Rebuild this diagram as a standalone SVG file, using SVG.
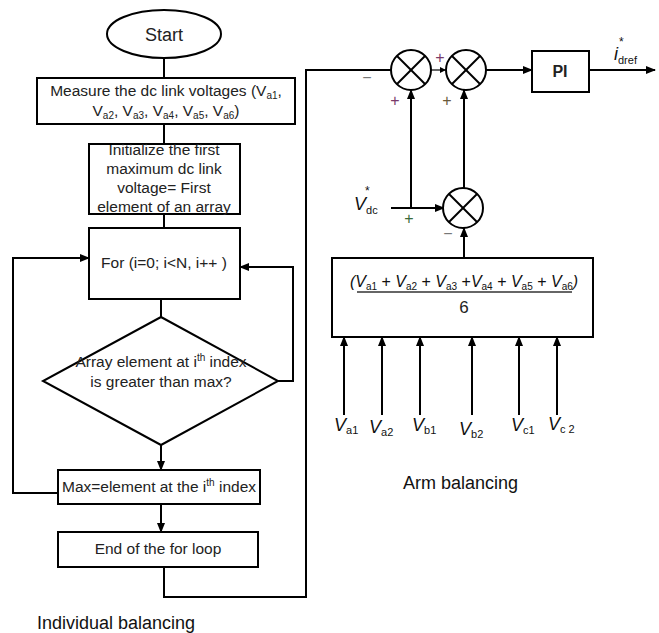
<svg xmlns="http://www.w3.org/2000/svg" width="659" height="633" viewBox="0 0 659 633">
<defs>
<marker id="ah" markerWidth="10" markerHeight="8" refX="9" refY="4" orient="auto" markerUnits="userSpaceOnUse">
<path d="M0,0 L10,4 L0,8 Z" fill="#000"/>
</marker>
<marker id="ahs" markerWidth="6" markerHeight="6" refX="6" refY="3" orient="auto" markerUnits="userSpaceOnUse">
<path d="M0,0 L6,3 L0,6 Z" fill="#000"/>
</marker>
<g id="sumsym">
<circle cx="0" cy="0" r="20" fill="#fff" stroke="#000" stroke-width="2"/>
<line x1="-14" y1="-14" x2="14" y2="14" stroke="#000" stroke-width="2"/>
<line x1="-14" y1="14" x2="14" y2="-14" stroke="#000" stroke-width="2"/>
</g>
</defs>
<style>
.box{fill:#fff;stroke:#000;stroke-width:2}
.ln{fill:none;stroke:#000;stroke-width:2}
.t{font-family:"Liberation Sans",Arial,sans-serif;font-size:15.5px;fill:#222;text-anchor:middle}
.big{font-family:"Liberation Sans",Arial,sans-serif;font-size:18px;fill:#111}
.m{font-family:"Liberation Sans",Arial,sans-serif;font-size:18px;fill:#111;font-style:italic}
.s{font-size:10px;font-style:normal}
.ms{font-size:11px;font-style:normal}
.fs{font-size:10px;font-style:normal}
.sg{font-family:"Liberation Sans",Arial,sans-serif;font-size:16px;text-anchor:middle}
</style>
<rect width="659" height="633" fill="#fff"/>

<g id="connectors">
<line class="ln" x1="164" y1="58" x2="164" y2="78"/>
<line class="ln" x1="164" y1="124" x2="164" y2="144"/>
<line class="ln" x1="164" y1="214" x2="164" y2="228"/>
<line class="ln" x1="161" y1="299" x2="161" y2="317"/>
<line class="ln" x1="161" y1="445" x2="161" y2="470" marker-end="url(#ah)"/>
<line class="ln" x1="161" y1="504" x2="161" y2="532" marker-end="url(#ah)"/>
<polyline class="ln" points="58,493 13,493 13,258 89,258" marker-end="url(#ah)"/>
<polyline class="ln" points="278,381 293,381 293,267 240,267" marker-end="url(#ah)"/>
<polyline class="ln" points="164,567 164,597 306,597 306,70 391,70"/>
<line stroke="#000" stroke-width="1.2" x1="431" y1="70" x2="446" y2="70" marker-end="url(#ahs)"/>
<line class="ln" x1="486" y1="70" x2="532" y2="70" marker-end="url(#ah)"/>
<line class="ln" x1="589" y1="70" x2="655" y2="70" marker-end="url(#ah)"/>
<line class="ln" x1="411" y1="208" x2="411" y2="90" marker-end="url(#ah)"/>
<line class="ln" x1="391" y1="208" x2="444" y2="208" marker-end="url(#ah)"/>
<line class="ln" x1="464" y1="188" x2="464" y2="90" marker-end="url(#ah)"/>
<line class="ln" x1="464" y1="258" x2="464" y2="228" marker-end="url(#ah)"/>
<line class="ln" x1="344" y1="415" x2="344" y2="337" marker-end="url(#ah)"/>
<line class="ln" x1="382" y1="415" x2="382" y2="337" marker-end="url(#ah)"/>
<line class="ln" x1="420" y1="415" x2="420" y2="337" marker-end="url(#ah)"/>
<line class="ln" x1="472" y1="415" x2="472" y2="337" marker-end="url(#ah)"/>
<line class="ln" x1="519" y1="415" x2="519" y2="337" marker-end="url(#ah)"/>
<line class="ln" x1="557" y1="415" x2="557" y2="337" marker-end="url(#ah)"/>
</g>

<g id="start">
<ellipse cx="164" cy="34" rx="57" ry="24" class="box"/>
<text class="t" x="164" y="41" style="font-size:18px">Start</text>
</g>

<g id="measure">
<rect class="box" x="37" y="78" width="258" height="46"/>
<text class="t" x="166" y="96">Measure the dc link voltages (V<tspan class="s" dy="3">a1</tspan><tspan dy="-3">,</tspan></text>
<text class="t" x="166" y="116">V<tspan class="s" dy="3">a2</tspan><tspan dy="-3">, V</tspan><tspan class="s" dy="3">a3</tspan><tspan dy="-3">, V</tspan><tspan class="s" dy="3">a4</tspan><tspan dy="-3">, V</tspan><tspan class="s" dy="3">a5</tspan><tspan dy="-3">, V</tspan><tspan class="s" dy="3">a6</tspan><tspan dy="-3">)</tspan></text>
</g>

<g id="init">
<rect class="box" x="89" y="144" width="151" height="70"/>
<text class="t" x="164" y="155">Initialize the first</text>
<text class="t" x="164" y="174">maximum dc link</text>
<text class="t" x="164" y="193">voltage= First</text>
<text class="t" x="164" y="212">element of an array</text>
</g>

<g id="forloop">
<rect class="box" x="89" y="228" width="151" height="71"/>
<text class="t" x="164" y="268">For (i=0; i&lt;N, i++ )</text>
</g>

<g id="decision">
<polygon class="box" points="161,317 278,381 161,445 43,381"/>
<text class="t" x="161" y="367">Array element at i<tspan class="s" dy="-6">th</tspan><tspan dy="6"> index</tspan></text>
<text class="t" x="161" y="387">is greater than max?</text>
</g>

<g id="maxbox">
<rect class="box" x="58" y="470" width="202" height="34"/>
<text class="t" x="159" y="492">Max=element at the i<tspan class="s" dy="-6">th</tspan><tspan dy="6"> index</tspan></text>
</g>

<g id="endbox">
<rect class="box" x="58" y="532" width="200" height="35"/>
<text class="t" x="158" y="554">End of the for loop</text>
</g>

<g id="sum1"><use href="#sumsym" x="411" y="70"/></g>
<g id="sum2"><use href="#sumsym" x="466" y="70"/></g>
<g id="sum3"><use href="#sumsym" x="463" y="208"/></g>

<g id="pi">
<rect class="box" x="532" y="51" width="57" height="41"/>
<text class="t" x="560" y="77" style="font-weight:bold;font-size:16px">PI</text>
</g>

<g id="avg">
<rect class="box" x="332" y="258" width="261" height="79"/>
<text class="m" x="464" y="287" text-anchor="middle" style="font-size:16px">(V<tspan class="fs" dy="3">a1</tspan><tspan dy="-3" font-style="normal"> + </tspan>V<tspan class="fs" dy="3">a2</tspan><tspan dy="-3" font-style="normal"> + </tspan>V<tspan class="fs" dy="3">a3</tspan><tspan dy="-3" font-style="normal"> +</tspan>V<tspan class="fs" dy="3">a4</tspan><tspan dy="-3" font-style="normal"> + </tspan>V<tspan class="fs" dy="3">a5</tspan><tspan dy="-3" font-style="normal"> + </tspan>V<tspan class="fs" dy="3">a6</tspan><tspan dy="-3">)</tspan></text>
<line stroke="#333" stroke-width="1.3" x1="357" y1="292" x2="572" y2="292"/>
<text class="t" x="464" y="313" style="font-size:17px">6</text>
</g>

<g id="labels">
<text class="sg" x="367" y="83" fill="#777">−</text>
<text class="sg" x="395" y="106" fill="#7a3a6a">+</text>
<text class="sg" x="440" y="63" fill="#7a3a6a">+</text>
<text class="sg" x="447" y="106" fill="#6a5a3a">+</text>
<text class="sg" x="409" y="224" fill="#3a6a3a">+</text>
<text class="sg" x="448" y="239" fill="#777">−</text>
<text class="m" x="354" y="210" fill="#1f3a6b">V<tspan class="ms" dy="4" font-style="italic">dc</tspan></text>
<text class="m" x="365" y="195" style="font-size:12px;font-style:normal">*</text>
<text class="m" x="614" y="60">i<tspan class="ms" dy="4" font-style="italic">dref</tspan></text>
<text class="m" x="619" y="46" style="font-size:12px;font-style:normal">*</text>
<text class="m" x="334" y="431">V<tspan class="ms" dy="3">a1</tspan></text>
<text class="m" x="369" y="433">V<tspan class="ms" dy="3">a2</tspan></text>
<text class="m" x="412" y="431">V<tspan class="ms" dy="3" font-style="italic">b1</tspan></text>
<text class="m" x="459" y="435">V<tspan class="ms" dy="3" font-style="italic">b2</tspan></text>
<text class="m" x="511" y="431">V<tspan class="ms" dy="3" font-style="italic">c</tspan><tspan class="ms" font-style="normal">1</tspan></text>
<text class="m" x="548" y="430">V<tspan class="ms" dy="3" font-style="italic">c</tspan><tspan class="ms" font-style="normal"> 2</tspan></text>
<text class="big" x="403" y="489">Arm balancing</text>
<text class="big" x="37" y="629">Individual balancing</text>
</g>
</svg>
